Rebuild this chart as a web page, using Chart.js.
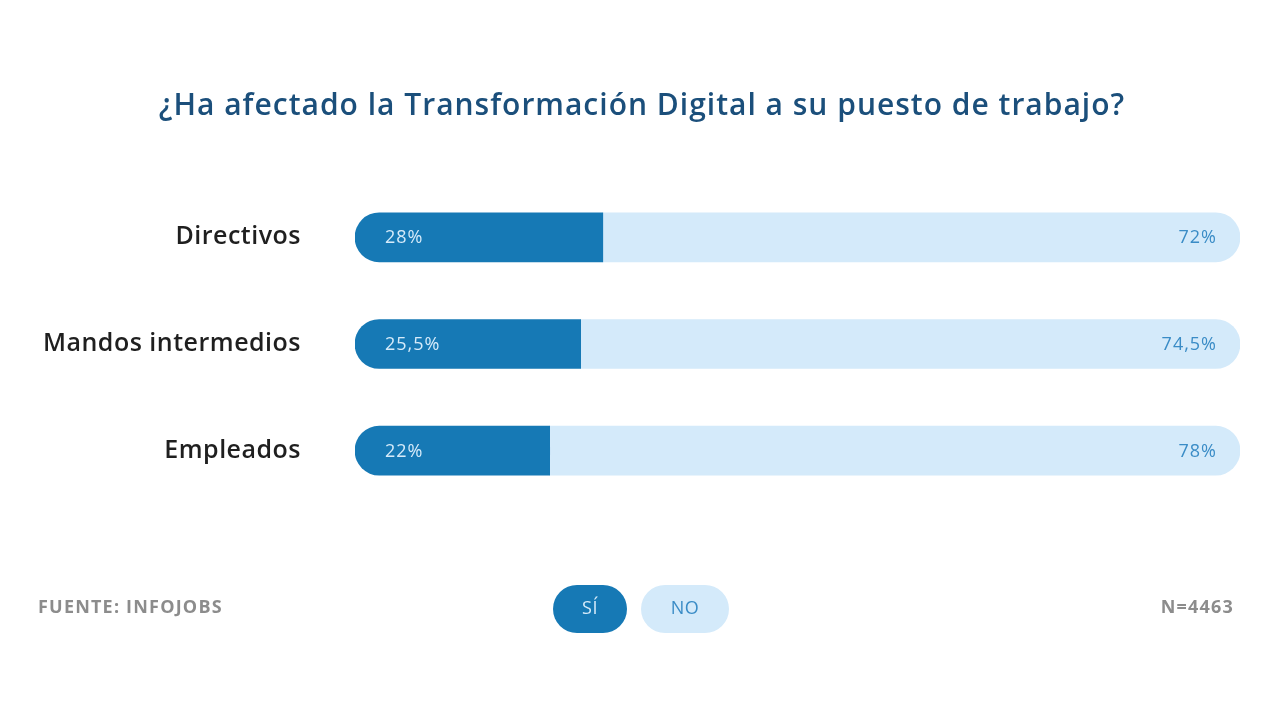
<!DOCTYPE html>
<html>
<head>
<meta charset="utf-8">
<script src="https://cdn.jsdelivr.net/npm/chart.js@4/dist/chart.umd.min.js"></script>
<style>
  html, body { margin: 0; padding: 0; background: #ffffff; }
  #wrap { width: 1280px; height: 720px; position: relative; }
</style>
</head>
<body>
<div id="wrap"><canvas id="myChart" width="1280" height="720"></canvas></div>
<script>
const categories = ['Directivos', 'Mandos intermedios', 'Empleados'];
const siValues = [28, 25.5, 22];
const noValues = [72, 74.5, 78];
const seriesNames = ['SÍ', 'NO'];
const titleText = '¿Ha afectado la Transformación Digital a su puesto de trabajo?';
const sourceText = 'FUENTE: INFOJOBS';
const sampleText = 'N=4463';

const darkBlue = '#1679b5';
const lightBlue = '#d4eafa';

const fmt = v => String(v).replace('.', ',') + '%';

// a bit of tracking for the axis labels (the original font runs wider)
const spacingPlugin = {
  id: 'spacing',
  beforeDraw(chart) {
    chart.ctx.letterSpacing = '0.5px';
  }
};

// texts inside the bars, title, legend pills and footer
const extrasPlugin = {
  id: 'extras',
  afterDatasetsDraw(chart) {
    const ctx = chart.ctx;
    ctx.save();
    ctx.textBaseline = 'middle';
    ctx.letterSpacing = '1px';
    ctx.font = '400 18px "Open Sans"';
    chart.data.datasets.forEach((ds, i) => {
      const meta = chart.getDatasetMeta(i);
      meta.data.forEach((bar, j) => {
        if (i === 0) {
          ctx.fillStyle = '#d6ebfa';
          ctx.textAlign = 'left';
          ctx.fillText(fmt(ds.data[j]), bar.base + 30, bar.y + 1);
        } else {
          ctx.fillStyle = '#3a8cc6';
          ctx.textAlign = 'right';
          ctx.fillText(fmt(ds.data[j]), bar.x - 23, bar.y + 1);
        }
      });
    });
    ctx.restore();
  },
  afterDraw(chart) {
    const ctx = chart.ctx;
    ctx.save();
    ctx.textBaseline = 'middle';

    ctx.fillStyle = '#1b4f7b';
    ctx.textAlign = 'center';
    ctx.letterSpacing = '1px';
    ctx.font = '600 30px "Open Sans"';
    ctx.fillText(titleText, 642, 106);

    ctx.fillStyle = '#8c8c8c';
    ctx.letterSpacing = '1.2px';
    ctx.font = '700 18px "Open Sans"';
    ctx.textAlign = 'left';
    ctx.fillText(sourceText, 38, 608);
    ctx.textAlign = 'right';
    ctx.fillText(sampleText, 1234, 608);

    // legend pills
    const pills = [{x: 553, w: 74}, {x: 641, w: 88}];
    const textCols = ['#d6ebfa', '#3a8cc6'];
    ctx.font = '400 18px "Open Sans"';
    ctx.letterSpacing = '0.5px';
    ctx.textAlign = 'center';
    chart.data.datasets.forEach((ds, i) => {
      const p = pills[i];
      ctx.fillStyle = ds.backgroundColor;
      ctx.beginPath();
      ctx.roundRect(p.x, 585, p.w, 48, 24);
      ctx.fill();
      ctx.fillStyle = textCols[i];
      ctx.fillText(ds.label, p.x + p.w / 2, 609);
    });
    ctx.restore();
  }
};

const ctx = document.getElementById('myChart').getContext('2d');
const myChart = new Chart(ctx, {
  type: 'bar',
  data: {
    labels: categories,
    datasets: [{
      label: seriesNames[0],
      data: siValues,
      backgroundColor: darkBlue,
      borderSkipped: false,
      borderRadius: {topLeft: 25, bottomLeft: 25, topRight: 0, bottomRight: 0},
      barThickness: 49
    }, {
      label: seriesNames[1],
      data: noValues,
      backgroundColor: lightBlue,
      borderSkipped: false,
      borderRadius: {topLeft: 0, bottomLeft: 0, topRight: 25, bottomRight: 25},
      barThickness: 49
    }]
  },
  options: {
    indexAxis: 'y',
    responsive: false,
    animation: false,
    layout: {
      padding: {top: 184, bottom: 216, right: 40, left: 0}
    },
    scales: {
      x: {
        stacked: true,
        min: 0,
        max: 100,
        display: false
      },
      y: {
        stacked: true,
        border: {display: false},
        grid: {display: false, drawTicks: false},
        ticks: {
          padding: 54,
          color: '#1f1f1f',
          font: {family: 'Open Sans', size: 25, weight: '600'}
        },
        afterFit(scale) { scale.width = 355; }
      }
    },
    plugins: {
      legend: {display: false},
      tooltip: {enabled: false}
    }
  },
  plugins: [spacingPlugin, extrasPlugin]
});
</script>
</body>
</html>
